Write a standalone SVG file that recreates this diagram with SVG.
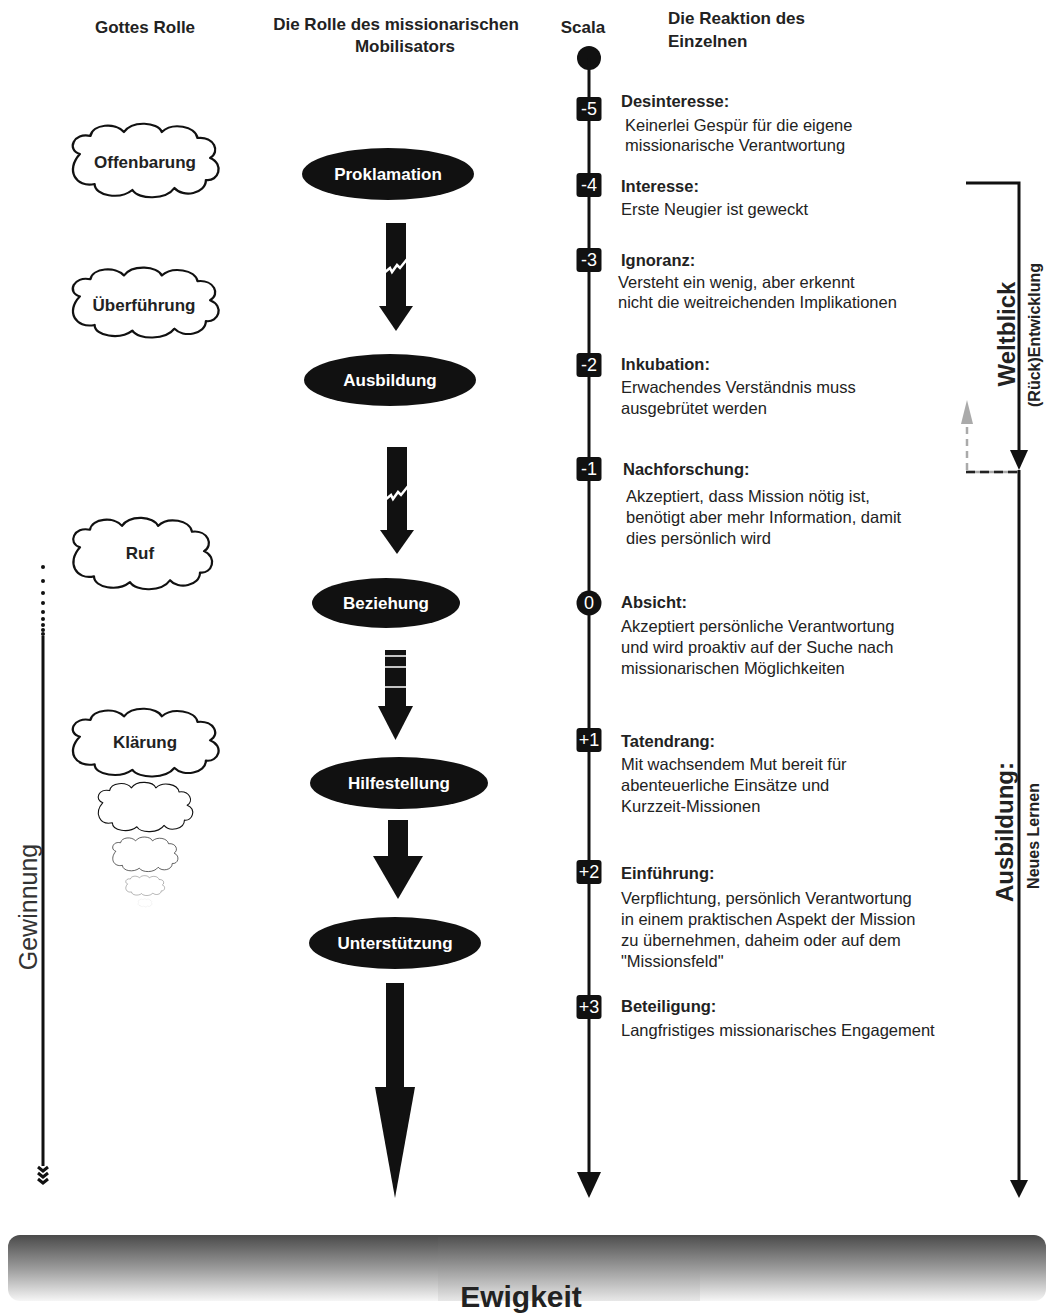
<svg xmlns="http://www.w3.org/2000/svg" xmlns:xlink="http://www.w3.org/1999/xlink" width="1055" height="1313" viewBox="0 0 1055 1313">
<style>
.hd{font-family:"Liberation Sans",Arial,sans-serif;font-weight:bold;font-size:17px;fill:#222}
.h{font-family:"Liberation Sans",Arial,sans-serif;font-weight:bold;font-size:16.5px;fill:#222}
.b{font-family:"Liberation Sans",Arial,sans-serif;font-size:16.5px;fill:#222}
.ct{font-family:"Liberation Sans",Arial,sans-serif;font-weight:bold;font-size:17px;fill:#222;text-anchor:middle}
.et{font-family:"Liberation Sans",Arial,sans-serif;font-weight:bold;font-size:17px;fill:#fff;text-anchor:middle}
.mt{font-family:"Liberation Sans",Arial,sans-serif;font-size:18px;fill:#fff;text-anchor:middle}
.cl{fill:#fff;stroke:#111;stroke-width:2.2;vector-effect:non-scaling-stroke;stroke-linejoin:round}
.el{fill:#111}
.ar{fill:#111}
.mk{fill:#111}
.ln{stroke:#111;stroke-width:3;fill:none}
.crk{stroke:#fff;stroke-width:2.5;fill:none;stroke-linejoin:miter}
</style>
<defs>
<path id="cloud" d="M -62,-8 C -75,-12 -68,-30 -52,-26 C -50,-38 -28,-40 -20,-30 C -12,-42 12,-40 16,-30 C 26,-40 48,-36 50,-24 C 66,-26 72,-10 62,-4 C 76,2 70,20 58,18 C 58,32 36,36 28,26 C 20,38 -6,38 -12,28 C -24,38 -48,34 -48,22 C -66,26 -76,8 -62,-8 Z"/>
<linearGradient id="bar" x1="0" y1="0" x2="0" y2="1">
<stop offset="0" stop-color="#4a4a4a"/>
<stop offset="0.5" stop-color="#9a9a9a"/>
<stop offset="1" stop-color="#f6f6f6"/>
</linearGradient>
<linearGradient id="bar2" x1="0" y1="0" x2="0" y2="1">
<stop offset="0" stop-color="#525252"/>
<stop offset="0.5" stop-color="#9c9c9c"/>
<stop offset="1" stop-color="#e8e8e8"/>
</linearGradient>
</defs>
<rect width="1055" height="1313" fill="#fff"/>

<g id="headers">
<text class="hd" x="145" y="33" text-anchor="middle">Gottes Rolle</text>
<text class="hd" x="396" y="30" text-anchor="middle">Die Rolle des missionarischen</text>
<text class="hd" x="405" y="52" text-anchor="middle">Mobilisators</text>
<text class="hd" x="583" y="33" text-anchor="middle">Scala</text>
<text class="hd" x="668" y="24">Die Reaktion des</text>
<text class="hd" x="668" y="47">Einzelnen</text>
</g>

<g id="gottes-rolle">
<g id="cloud-offenbarung"><use href="#cloud" class="cl" transform="translate(145,162) scale(1.05,1)"/><text class="ct" x="145" y="168">Offenbarung</text></g>
<g id="cloud-ueberfuehrung"><use href="#cloud" class="cl" transform="translate(145,304) scale(1.05,0.95)"/><text class="ct" x="144" y="311">Überführung</text></g>
<g id="cloud-ruf"><use href="#cloud" class="cl" transform="translate(142,555) scale(1,0.97)"/><text class="ct" x="140" y="559">Ruf</text></g>
<g id="cloud-klaerung"><use href="#cloud" class="cl" transform="translate(145,744) scale(1.05,0.92)"/><text class="ct" x="145" y="748">Klärung</text></g>
<g id="cloud-small"><use href="#cloud" class="cl" style="stroke-width:1.6" transform="translate(145,808) scale(0.68,0.67)"/>
<use href="#cloud" class="cl" style="stroke-width:1.4" transform="translate(145,855) scale(0.47,0.47)"/>
<use href="#cloud" class="cl" style="stroke-width:1.1" transform="translate(145,886) scale(0.28,0.27)"/>
<use href="#cloud" class="cl" style="stroke-width:1;stroke:#999" transform="translate(145,903) scale(0.1,0.11)"/></g>
</g>

<g id="mobilisator">
<g id="node-proklamation"><ellipse class="el" cx="388" cy="174" rx="86" ry="26"/><text class="et" x="388" y="180">Proklamation</text></g>
<g id="node-ausbildung"><ellipse class="el" cx="390" cy="380" rx="86" ry="26"/><text class="et" x="390" y="386">Ausbildung</text></g>
<g id="node-beziehung"><ellipse class="el" cx="386" cy="603" rx="74" ry="25"/><text class="et" x="386" y="609">Beziehung</text></g>
<g id="node-hilfestellung"><ellipse class="el" cx="399" cy="783" rx="89" ry="26"/><text class="et" x="399" y="789">Hilfestellung</text></g>
<g id="node-unterstuetzung"><ellipse class="el" cx="395" cy="943" rx="86" ry="26"/><text class="et" x="395" y="949">Unterstützung</text></g>
</g>

<g id="connectors">
<g id="arrow1"><rect class="ar" x="386" y="223" width="20" height="85"/><polygon class="ar" points="379,306 413,306 396,331"/><polyline class="crk" points="384,273 390,268 392,272 397,265 400,268 408,258"/></g>
<g id="arrow2"><rect class="ar" x="387" y="447" width="20" height="85"/><polygon class="ar" points="380,530 414,530 397,554"/><polyline class="crk" points="385,500 391,495 393,499 398,492 401,495 409,485"/></g>
<g id="arrow3"><rect class="ar" x="385" y="650" width="21" height="58"/><polygon class="ar" points="378,706 413,706 395.5,740"/><g stroke="#fff" stroke-width="1.5"><line x1="385" y1="656" x2="406" y2="656"/><line x1="385" y1="667" x2="406" y2="667"/><line x1="385" y1="687" x2="406" y2="687"/></g></g>
<g id="arrow4"><rect class="ar" x="388" y="820" width="20" height="38"/><polygon class="ar" points="373,856 423,856 398,899"/></g>
<g id="arrow5"><rect class="ar" x="386" y="983" width="18" height="106"/><polygon class="ar" points="375,1087 415,1087 395,1198"/></g>

<g id="gewinnung-line">
<g fill="#111"><circle cx="43" cy="567" r="2"/><circle cx="43" cy="581" r="2"/><circle cx="43" cy="593" r="2"/><circle cx="43" cy="603" r="2"/><circle cx="43" cy="612" r="2"/><circle cx="43" cy="619" r="2"/><circle cx="43" cy="625" r="2"/><circle cx="43" cy="630" r="2"/><circle cx="43" cy="634" r="2"/></g>
<line class="ln" x1="43" y1="636" x2="43" y2="1166"/>
<g stroke="#111" stroke-width="3" fill="none"><polyline points="38,1167 43,1171 48,1167"/><polyline points="38,1173 43,1177 48,1173"/><polyline points="38,1179 43,1183 48,1179"/></g>
</g>

<g id="scala-line">
<circle cx="589" cy="58" r="12" fill="#111"/>
<line class="ln" x1="589" y1="58" x2="589" y2="1180"/>
<polygon class="ar" points="577,1172 601,1172 589,1198"/>
</g>

<g id="weltblick-arrow">
<polyline class="ln" points="966,183 1019,183 1019,455"/>
<polygon class="ar" points="1010,450 1028,450 1019,470"/>
<line stroke="#aaa" stroke-width="2.5" x1="966" y1="472" x2="1019" y2="472"/>
<line stroke="#222" stroke-width="2.5" stroke-dasharray="9,5" x1="966" y1="472" x2="1019" y2="472"/>
<line stroke="#aaa" stroke-width="2.5" stroke-dasharray="7,5" x1="967" y1="470" x2="967" y2="422"/>
<polygon fill="#aaa" points="961,424 973,424 967,400"/>
</g>
<g id="ausbildung-arrow">
<line class="ln" x1="1019" y1="470" x2="1019" y2="1182"/>
<polygon class="ar" points="1010,1180 1028,1180 1019,1198"/>
</g>
</g>

<g id="scala-markers">
<g id="m-5"><rect class="mk" x="576.5" y="97" width="25" height="24" rx="3"/><text class="mt" x="589" y="115">-5</text></g>
<g id="m-4"><rect class="mk" x="576.5" y="173" width="25" height="24" rx="3"/><text class="mt" x="589" y="191">-4</text></g>
<g id="m-3"><rect class="mk" x="576.5" y="248" width="25" height="24" rx="3"/><text class="mt" x="589" y="266">-3</text></g>
<g id="m-2"><rect class="mk" x="576.5" y="353" width="25" height="24" rx="3"/><text class="mt" x="589" y="371">-2</text></g>
<g id="m-1"><rect class="mk" x="576.5" y="457" width="25" height="24" rx="3"/><text class="mt" x="589" y="475">-1</text></g>
<g id="m0"><circle class="mk" cx="589" cy="603" r="12.5"/><text class="mt" x="589" y="609">0</text></g>
<g id="m+1"><rect class="mk" x="576.5" y="728" width="25" height="24" rx="3"/><text class="mt" x="589" y="746">+1</text></g>
<g id="m+2"><rect class="mk" x="576.5" y="860" width="25" height="24" rx="3"/><text class="mt" x="589" y="878">+2</text></g>
<g id="m+3"><rect class="mk" x="576.5" y="995" width="25" height="24" rx="3"/><text class="mt" x="589" y="1013">+3</text></g>
</g>

<g id="reaktionen">
<g id="r-5"><text class="h" x="621" y="107">Desinteresse:</text><text class="b" x="625" y="131">Keinerlei Gespür für die eigene</text><text class="b" x="625" y="151">missionarische Verantwortung</text></g>
<g id="r-4"><text class="h" x="621" y="192">Interesse:</text><text class="b" x="621" y="215">Erste Neugier ist geweckt</text></g>
<g id="r-3"><text class="h" x="621" y="266">Ignoranz:</text><text class="b" x="618" y="288">Versteht ein wenig, aber erkennt</text><text class="b" x="618" y="308">nicht die weitreichenden Implikationen</text></g>
<g id="r-2"><text class="h" x="621" y="370">Inkubation:</text><text class="b" x="621" y="393">Erwachendes Verständnis muss</text><text class="b" x="621" y="414">ausgebrütet werden</text></g>
<g id="r-1"><text class="h" x="623" y="475">Nachforschung:</text><text class="b" x="626" y="502">Akzeptiert, dass Mission nötig ist,</text><text class="b" x="626" y="523">benötigt aber mehr Information, damit</text><text class="b" x="626" y="544">dies persönlich wird</text></g>
<g id="r0"><text class="h" x="621" y="608">Absicht:</text><text class="b" x="621" y="632">Akzeptiert persönliche Verantwortung</text><text class="b" x="621" y="653">und wird proaktiv auf der Suche nach</text><text class="b" x="621" y="674">missionarischen Möglichkeiten</text></g>
<g id="r+1"><text class="h" x="621" y="747">Tatendrang:</text><text class="b" x="621" y="770">Mit wachsendem Mut bereit für</text><text class="b" x="621" y="791">abenteuerliche Einsätze und</text><text class="b" x="621" y="812">Kurzzeit-Missionen</text></g>
<g id="r+2"><text class="h" x="621" y="879">Einführung:</text><text class="b" x="621" y="904">Verpflichtung, persönlich Verantwortung</text><text class="b" x="621" y="925">in einem praktischen Aspekt der Mission</text><text class="b" x="621" y="946">zu übernehmen, daheim oder auf dem</text><text class="b" x="621" y="967">"Missionsfeld"</text></g>
<g id="r+3"><text class="h" x="621" y="1012">Beteiligung:</text><text class="b" x="621" y="1036">Langfristiges missionarisches Engagement</text></g>
</g>

<g id="side-labels">
<text font-family="Liberation Sans, Arial, sans-serif" font-size="25" fill="#333" text-anchor="middle" transform="translate(37,907) rotate(-90)">Gewinnung</text>
<text font-family="Liberation Sans, Arial, sans-serif" font-weight="bold" font-size="24" fill="#222" text-anchor="middle" transform="translate(1015,334) rotate(-90)">Weltblick</text>
<text font-family="Liberation Sans, Arial, sans-serif" font-weight="bold" font-size="16" fill="#222" text-anchor="middle" transform="translate(1040,335) rotate(-90)">(Rück)Entwicklung</text>
<text font-family="Liberation Sans, Arial, sans-serif" font-weight="bold" font-size="24" fill="#222" text-anchor="middle" transform="translate(1013,832) rotate(-90)">Ausbildung:</text>
<text font-family="Liberation Sans, Arial, sans-serif" font-weight="bold" font-size="16" fill="#222" text-anchor="middle" transform="translate(1039,836) rotate(-90)">Neues Lernen</text>
</g>

<g id="ewigkeit">
<rect x="8" y="1235" width="1038" height="66" rx="12" fill="url(#bar)"/>
<rect x="438" y="1237" width="262" height="64" fill="url(#bar2)"/>
<text font-family="Liberation Sans, Arial, sans-serif" font-weight="bold" font-size="30" fill="#222" text-anchor="middle" x="521" y="1307">Ewigkeit</text>
</g>
</svg>
